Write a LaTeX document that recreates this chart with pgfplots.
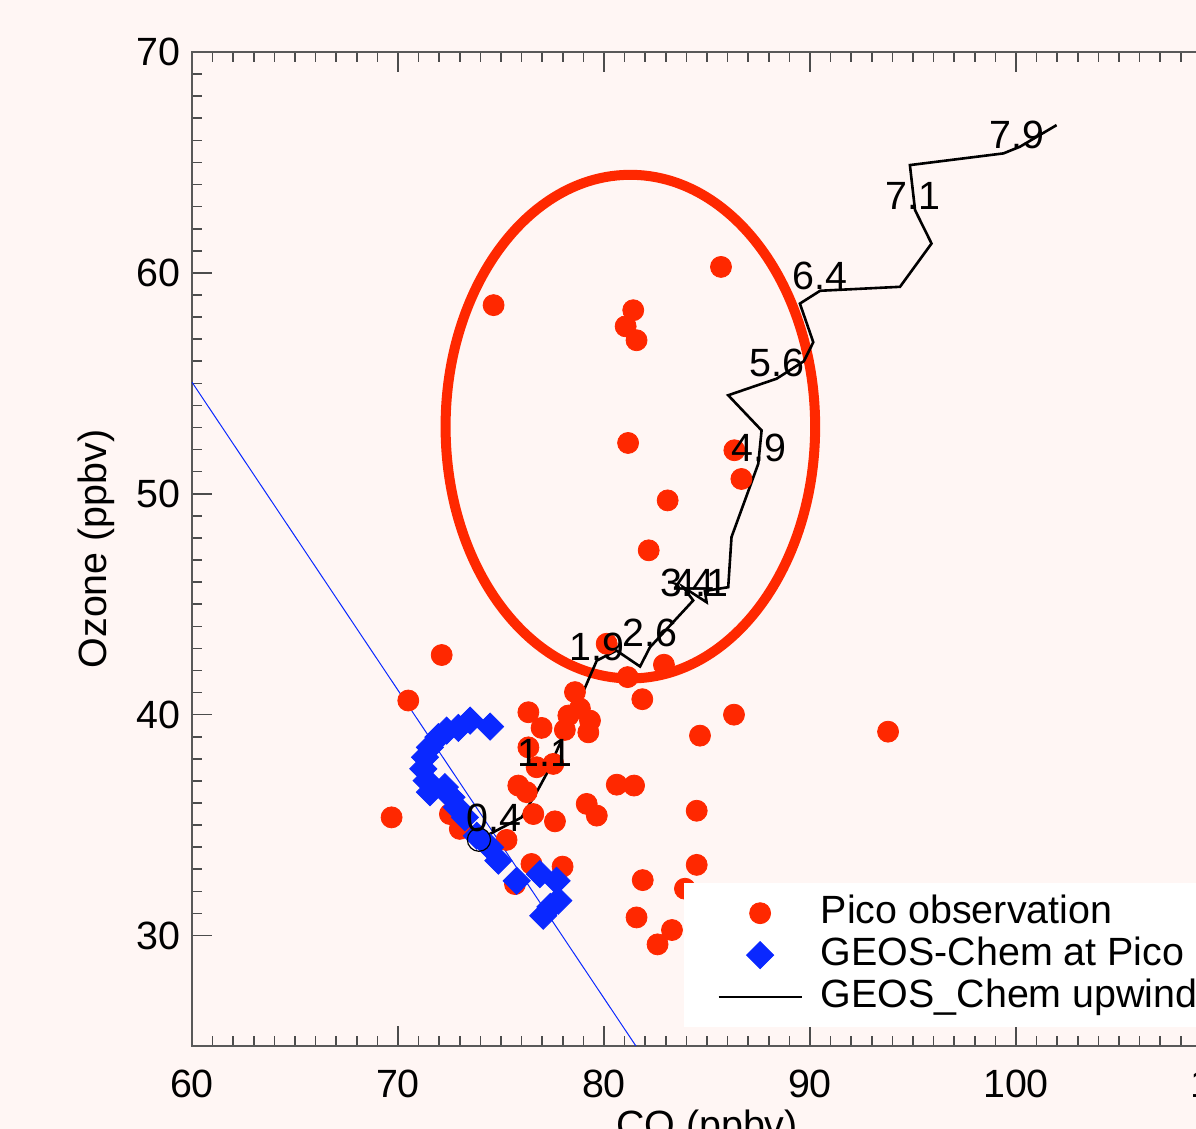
\documentclass[border=0pt]{standalone}
\usepackage{pgfplots}
\pgfplotsset{compat=1.18}
\usepackage{fontspec}
\setmainfont{Liberation Sans}
\definecolor{bgpink}{HTML}{FFF6F4}
\definecolor{ozred}{HTML}{FF2800}
\definecolor{gcblue}{HTML}{0A28FF}
\newcommand{\bigfont}{\fontsize{19.7}{23.6}\selectfont}
\begin{document}
\begin{tikzpicture}
\path[use as bounding box] (-96pt,-41.5pt) rectangle (502pt,523pt);
\fill[bgpink] (-96pt,-41.5pt) rectangle (502pt,523pt);
\begin{scope}
\clip (-96pt,-41.5pt) rectangle (502pt,523pt);
\begin{axis}[
  at={(0pt,0pt)}, anchor=south west,
  scale only axis, width=515pt, height=497pt,
  xmin=60, xmax=110, ymin=25, ymax=70,
  xtick={60,70,80,90,100,110}, ytick={30,40,50,60,70},
  minor x tick num=9, minor y tick num=9,
  major tick length=10pt, minor tick length=5pt,
  tick align=inside,
  axis line style={black!65, line width=0.8pt},
  every tick/.style={black!70, line width=0.8pt},
  /pgf/number format/assume math mode=true,
  tick label style={font=\bigfont},
  xticklabel style={inner sep=0pt, anchor=north, yshift=-12pt},
  yticklabel style={inner sep=0pt, anchor=east, xshift=-5.5pt},
  label style={font=\bigfont},
  xlabel={CO (ppbv)}, ylabel={Ozone (ppbv)},
  xlabel style={at={(axis description cs:0.5,0)}, anchor=north, yshift=-32pt, inner sep=0pt},
  ylabel style={at={(axis description cs:0,0.5)}, anchor=center, yshift=48pt, inner sep=0pt},
  legend style={at={(0.4776,0.1642)}, anchor=north west, draw=none, fill=white,
    font=\bigfont, inner xsep=16.5pt, inner ysep=6pt,
    nodes={inner xsep=5.5pt, inner ysep=0pt, text height=14pt, text depth=4pt},
    row sep=3pt},
  legend cell align=left,
  legend image code/.code={\draw[mark repeat=2,mark phase=2,#1] plot coordinates {(0pt,0pt) (20.75pt,0pt) (41.5pt,0pt)};},
]
% Pico observations
\addplot[only marks, mark=*, mark size=5.25pt, color=ozred, mark options={draw=none, fill=ozred}] coordinates {
(85.68,60.27) (74.64,58.54) (81.42,58.31) (81.05,57.58) (81.58,56.95)
(81.17,52.30) (86.33,51.97) (86.67,50.67) (83.09,49.70) (82.17,47.44)
(80.13,43.21) (82.91,42.26) (81.15,41.70) (81.86,40.70) (72.12,42.70)
(70.50,40.64) (69.69,35.35) (78.59,41.02) (76.33,40.11) (76.97,39.40)
(78.27,39.96) (78.83,40.28) (79.32,39.73) (79.24,39.20) (78.10,39.31)
(76.33,38.52) (76.73,37.62) (77.54,37.77) (75.84,36.79) (76.25,36.49)
(80.62,36.83) (81.46,36.79) (79.16,35.96) (79.65,35.43) (76.57,35.50)
(77.62,35.17) (72.52,35.50) (73.00,34.83) (75.27,34.33) (76.48,33.24)
(77.99,33.12) (75.68,32.33) (81.88,32.51) (81.58,30.82) (84.66,39.05)
(86.31,40.00) (84.50,35.65) (84.50,33.20) (83.93,32.12) (83.30,30.25)
(82.60,29.60) (93.79,39.23)
};
\addlegendentry{\hspace{3.5pt}Pico observation}
% fit line
\addplot[gcblue, line width=0.5pt, forget plot] coordinates {(60,55.05) (81.55,25)};
% GEOS-Chem at Pico
\addplot[only marks, mark=square*, mark size=4.8pt, color=gcblue,
  mark options={draw=none, fill=gcblue, rotate=45}] coordinates {
(74.47,39.46) (73.50,39.73) (72.93,39.40) (72.36,39.28) (71.96,38.98)
(71.55,38.52) (71.31,38.07) (71.23,37.55) (71.39,37.01) (71.55,36.49)
(72.28,36.72) (72.60,36.26) (72.85,35.81) (73.25,35.35) (73.82,34.52)
(74.47,33.99) (74.87,33.39) (75.76,32.48) (76.89,32.78) (77.70,32.48)
(77.78,31.58) (77.40,31.30) (77.05,30.90)
};
\addlegendentry{\hspace{3.5pt}GEOS-Chem at Pico}
% ellipse
\draw[ozred, line width=5pt] (axis cs:81.28,53.04) ellipse [x radius=8.97, y radius=11.40];
% upwind trajectory
\addplot[black, line width=1.3pt, line join=miter] coordinates {
(73.93,34.34) (74.71,34.72) (76.00,35.35) (76.73,36.49) (77.20,37.30)
(77.86,38.68) (78.60,40.19) (79.30,41.70) (79.65,42.45) (80.61,42.90)
(81.75,42.18) (82.23,43.05) (84.33,45.17) (83.85,45.77) (84.98,45.09)
(84.90,45.60) (86.03,45.77) (86.19,48.04) (87.49,51.36) (87.65,52.87)
(86.03,54.46) (88.38,55.21) (89.70,56.00) (90.16,56.86) (89.51,58.61)
(90.49,59.19) (94.37,59.37) (95.90,61.33) (95.10,62.84) (94.85,64.88)
(99.39,65.41) (100.19,65.71) (101.97,66.69)
};
\addlegendentry{\hspace{3.5pt}GEOS\_Chem upwind trajectory}
\addplot[only marks, mark=o, mark size=5.8pt, black, line width=0.6pt, forget plot] coordinates {(73.93,34.34)};
% day labels
\addplot[only marks, mark=none, forget plot,
  nodes near coords, point meta=explicit symbolic,
  every node near coord/.style={font=\bigfont, anchor=base, inner sep=0pt}] table[meta=lab] {
x y lab
74.66 34.70 0.4
77.14 37.65 1.1
79.65 42.45 1.9
82.25 43.08 2.6
84.05 45.33 3.4
84.69 45.33 4.1
87.52 51.48 4.9
88.38 55.29 5.6
90.49 59.25 6.4
94.98 62.87 7.1
100.05 65.64 7.9
};
\end{axis}
\end{scope}
\end{tikzpicture}
\end{document}
